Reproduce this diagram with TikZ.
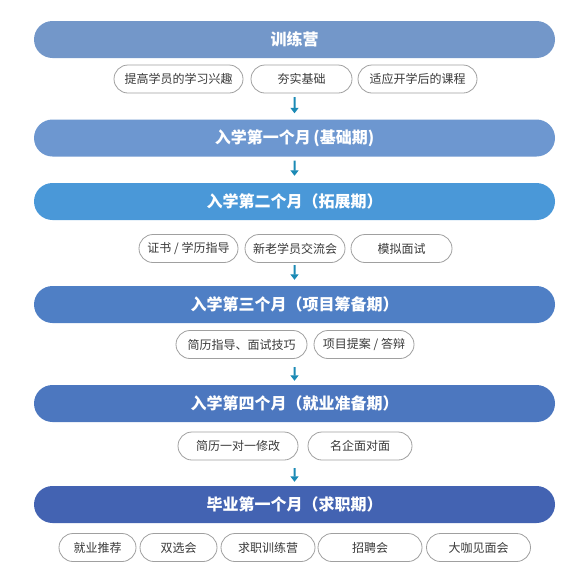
\documentclass[tikz,border=0pt]{standalone}
\usepackage{fontspec}
\setmainfont{Noto Sans CJK SC}
\usepackage{xcolor}
\usepackage{tikz}
\usetikzlibrary{shapes.misc, arrows.meta, positioning}
\definecolor{campblue}{HTML}{7397C9}
\definecolor{monthone}{HTML}{6D97D0}
\definecolor{monthtwo}{HTML}{4A98D8}
\definecolor{monththree}{HTML}{4F7FC5}
\definecolor{monthfour}{HTML}{4C77BF}
\definecolor{jobblue}{HTML}{4363B2}
\definecolor{pillgray}{HTML}{A0A0A0}
\definecolor{pilltext}{HTML}{3A3A3A}
\definecolor{arrowteal}{HTML}{1B8AB5}

\begin{document}
\begin{tikzpicture}[x=1pt, y=-1pt, every node/.style={font=\normalfont}]
    % Define styles
    \tikzstyle{stage} = [rounded rectangle, minimum width=521pt, minimum height=37pt, inner sep=0pt, text=white, font=\bfseries\fontsize{16}{18}\selectfont]
    \tikzstyle{pill} = [rounded rectangle, minimum height=28pt, inner sep=0pt, draw=pillgray, line width=0.8pt, fill=white, text=pilltext, font=\fontsize{12}{14}\selectfont]
    \tikzstyle{arrow} = [line width=2pt, draw=arrowteal, -{Triangle[length=5.5pt, width=8pt]}]

    \useasboundingbox (0,0) rectangle (569,566);

    % Stages
    \node (camp) [stage, fill=campblue] at (294.5, 39.5) {训练营};
    \node (month1) [stage, fill=monthone] at (294.5, 138) {入学第一个月\,(基础期)};
    \node (month2) [stage, fill=monthtwo] at (294.5, 201.5) {入学第二个月（拓展期）};
    \node (month3) [stage, fill=monththree] at (294.5, 304.5) {入学第三个月（项目筹备期）};
    \node (month4) [stage, fill=monthfour] at (294.5, 403.5) {入学第四个月（就业准备期）};
    \node (jobmonth) [stage, fill=jobblue] at (294.5, 504.5) {毕业第一个月（求职期）};

    % Training camp items
    \node (interest) [pill, minimum width=129pt] at (178.5, 79) {提高学员的学习兴趣};
    \node (basics) [pill, minimum width=101pt] at (301.5, 79) {夯实基础};
    \node (adapt) [pill, minimum width=119pt] at (417.5, 79) {适应开学后的课程};

    % Second month items
    \node (cert) [pill, minimum width=99pt] at (188.5, 248.5) {证书 / 学历指导};
    \node (meetup) [pill, minimum width=100pt] at (295, 248.5) {新老学员交流会};
    \node (mock) [pill, minimum width=101pt] at (401.5, 248.5) {模拟面试};

    % Third month items
    \node (resume) [pill, minimum width=131pt] at (241.5, 344.5) {简历指导、面试技巧};
    \node (proposal) [pill, minimum width=100pt] at (364, 344.5) {项目提案 / 答辩};

    % Fourth month items
    \node (onetoone) [pill, minimum width=120pt] at (238, 446) {简历一对一修改};
    \node (facetoface) [pill, minimum width=104pt] at (360, 446) {名企面对面};

    % Job month items
    \node (referral) [pill, minimum width=77pt] at (97.5, 547.5) {就业推荐};
    \node (fair) [pill, minimum width=77pt] at (178.5, 547.5) {双选会};
    \node (jobcamp) [pill, minimum width=94pt] at (268, 547.5) {求职训练营};
    \node (hiring) [pill, minimum width=104pt] at (370, 547.5) {招聘会};
    \node (talk) [pill, minimum width=104pt] at (478.5, 547.5) {大咖见面会};

    % Flow arrows
    \draw [arrow, shorten <=39pt, shorten >=6pt] (camp) -- (month1);
    \draw [arrow, shorten <=4pt, shorten >=7pt] (month1) -- (month2);
    \draw [arrow, shorten <=45pt, shorten >=6pt] (month2) -- (month3);
    \draw [arrow, shorten <=44pt, shorten >=4pt] (month3) -- (month4);
    \draw [arrow, shorten <=46pt, shorten >=4pt] (month4) -- (jobmonth);
\end{tikzpicture}
\end{document}
